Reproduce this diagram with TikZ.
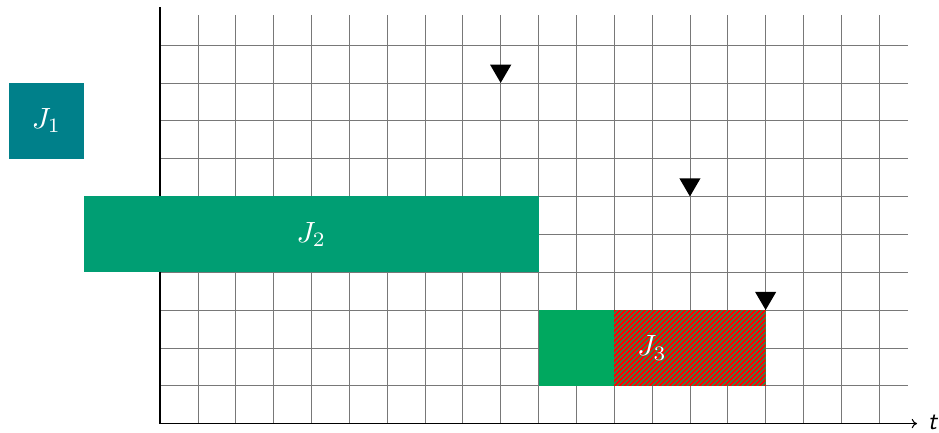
\documentclass[tikz,border=0pt]{standalone}
\usetikzlibrary{arrows.meta}
\definecolor{jone}{RGB}{0,128,138}
\definecolor{jtwo}{RGB}{0,158,115}
\definecolor{jthree}{RGB}{0,168,95}
\definecolor{hred}{RGB}{255,0,0}
\definecolor{gridc}{RGB}{120,120,120}
\newcommand{\bigtxt}[1]{\scalebox{2.2}{#1}}
\tikzset{
  gridline/.style={draw=gridc, line width=0.5pt},
  axisline/.style={draw=black, line width=0.8pt},
  job/.style={draw=none, inner sep=0pt, text=white},
  deadline/.style={fill=black, draw=none},
}
\begin{document}
\begin{tikzpicture}[x=1cm,y=1cm]
\useasboundingbox (-4.227,-0.238) rectangle (20.58,11.19);
% grid
\foreach \k in {1,...,19} \draw[gridline] (\k,0) -- (\k,10.8);
\foreach \j in {1,...,10} \draw[gridline] (0,\j) -- (19.75,\j);
% axes
\coordinate (o) at (0,0);
\coordinate (ytop) at (0,11);
\coordinate (xend) at (20,0);
\draw[axisline] (ytop) -- (o);
\draw[axisline, -{To[length=4pt,width=7pt]}] (o) -- (xend);
\node[anchor=west, inner sep=0pt, xshift=8pt, yshift=1pt] (tl) at (xend) {\scalebox{1.9}{\textsf{\textit{t}}}};
% jobs
\node[job, fill=jone, minimum width=2cm, minimum height=2cm] (j1) at (-3,8) {\bigtxt{$J_1$}};
\node[job, fill=jtwo, minimum width=12cm, minimum height=2cm] (j2) at (4,5) {\bigtxt{$J_2$}};
\fill[jthree] (10,1) rectangle (16,3);
\begin{scope}
  \clip (12,1) rectangle (16,3);
  \foreach \i in {0,...,70} \draw[hred, line width=1.6pt] (12+\i*0.132-2.2,0.9) -- ++(2.2,2.2);
\end{scope}
\node[job, minimum width=6cm, minimum height=2cm] (j3) at (13,2) {\bigtxt{$J_3$}};
% deadlines
\foreach \x/\y/\n in {9/9/d1, 14/6/d2, 16/3/d3}
  \path[deadline] (\x,\y) coordinate (\n) -- ++(-0.28,0.48) -- ++(0.56,0) -- cycle;
\end{tikzpicture}
\end{document}
